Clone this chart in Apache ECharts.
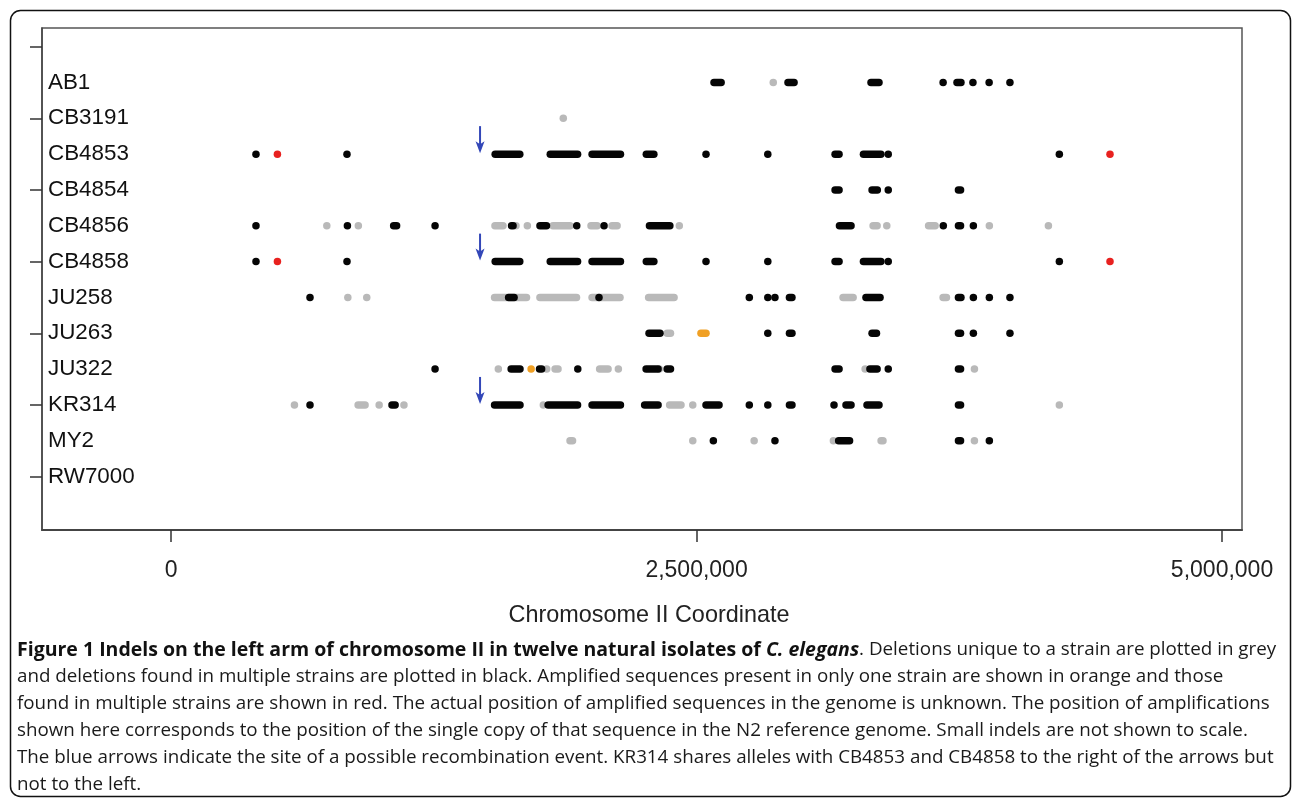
<!DOCTYPE html>
<html>
<head>
<meta charset="utf-8">
<script src="https://cdn.jsdelivr.net/npm/echarts@6/dist/echarts.min.js"></script>
<style>
html,body{margin:0;padding:0;background:#fff;}
#chart{width:1293px;height:802px;}
</style>
</head>
<body>
<div id="chart"></div>
<script>
// ---------- data ----------
const strains = ['AB1','CB3191','CB4853','CB4854','CB4856','CB4858','JU258','JU263','JU322','KR314','MY2','RW7000'];
const xTicks = [0, 2500000, 5000000];
const rowTicks = [0, 2, 4, 6, 8, 10, 12];
const xTitle = 'Chromosome II Coordinate';

// [strain, start, end]  (end omitted = single indel)
const blackMarks = [
  ['AB1',2583000,2617000],['AB1',2935000,2964000],['AB1',3330000,3368000],['AB1',3673000],['AB1',3739000,3758000],['AB1',3815000],['AB1',3892000],['AB1',3991000],
  ['CB4853',404000],['CB4853',837000],['CB4853',1542000,1659000],['CB4853',1804000,1934000],['CB4853',2003000,2138000],['CB4853',2261000,2297000],['CB4853',2545000],['CB4853',2839000],['CB4853',3159000,3178000],['CB4853',3294000,3377000],['CB4853',3412000],['CB4853',4226000],
  ['CB4854',3159000,3178000],['CB4854',3335000,3360000],['CB4854',3412000],['CB4854',3746000,3756000],
  ['CB4856',404000],['CB4856',839000],['CB4856',1059000,1073000],['CB4856',1256000],['CB4856',1620000,1627000],['CB4856',1755000,1786000],['CB4856',1930000],['CB4856',2060000],['CB4856',2276000,2373000],['CB4856',3180000,3235000],['CB4856',3674000],['CB4856',3746000,3756000],['CB4856',3817000],
  ['CB4858',404000],['CB4858',837000],['CB4858',1542000,1659000],['CB4858',1804000,1934000],['CB4858',2003000,2138000],['CB4858',2261000,2297000],['CB4858',2545000],['CB4858',2839000],['CB4858',3159000,3178000],['CB4858',3294000,3377000],['CB4858',3412000],['CB4858',4226000],
  ['JU258',661000],['JU258',1606000,1632000],['JU258',2036000],['JU258',2751000],['JU258',2839000],['JU258',2873000],['JU258',2942000,2954000],['JU258',3306000,3373000],['JU258',3746000,3758000],['JU258',3817000],['JU258',3893000],['JU258',3991000],
  ['JU263',2274000,2326000],['JU263',2839000],['JU263',2942000,2954000],['JU263',3335000,3356000],['JU263',3746000,3756000],['JU263',3817000],['JU263',3991000],
  ['JU322',1256000],['JU322',1618000,1660000],['JU322',1753000,1763000],['JU322',1935000],['JU322',2260000,2317000],['JU322',2360000,2376000],['JU322',3159000,3178000],['JU322',3325000,3359000],['JU322',3412000],['JU322',3746000,3756000],
  ['KR314',661000],['KR314',1051000,1066000],['KR314',1539000,1660000],['KR314',1794000,1934000],['KR314',2003000,2138000],['KR314',2253000,2317000],['KR314',2545000,2607000],['KR314',2751000],['KR314',2839000],['KR314',2942000,2954000],['KR314',3154000],['KR314',3211000,3235000],['KR314',3311000,3368000],['KR314',3746000,3756000],
  ['MY2',2580000],['MY2',2873000],['MY2',3176000,3228000],['MY2',3746000,3756000],['MY2',3893000]
];
const greyMarks = [
  ['AB1',2865000],
  ['CB3191',1866000],
  ['CB4856',741000],['CB4856',891000],['CB4856',1541000,1579000],['CB4856',1641000],['CB4856',1695000],['CB4856',1817000,1898000],['CB4856',1998000,2027000],['CB4856',2098000,2122000],['CB4856',2418000],['CB4856',3340000,3359000],['CB4856',3405000],['CB4856',3604000,3635000],['CB4856',3893000],['CB4856',4174000],
  ['JU258',841000],['JU258',931000],['JU258',1539000,1691000],['JU258',1755000,1929000],['JU258',2003000,2136000],['JU258',2272000,2393000],['JU258',3197000,3245000],['JU258',3673000,3689000],
  ['JU263',2360000,2376000],
  ['JU322',1557000],['JU322',1787000],['JU322',1827000,1841000],['JU322',2039000,2079000],['JU322',2128000],['JU322',2323000],['JU322',3302000],['JU322',3822000],
  ['KR314',587000],['KR314',890000,923000],['KR314',990000],['KR314',1108000],['KR314',1771000],['KR314',2372000,2426000],['KR314',2482000],['KR314',4226000],
  ['MY2',1898000,1910000],['MY2',2482000],['MY2',2774000],['MY2',3151000],['MY2',3378000,3387000],['MY2',3822000]
];
const orangeMarks = [['JU263',2521000,2545000],['JU322',1713000]];
const redMarks = [['CB4853',506000],['CB4853',4467000],['CB4858',506000],['CB4858',4467000]];
const arrowMarks = [['CB4853',1470000],['CB4858',1470000],['KR314',1470000]];

const captionLines = [
  [['b','Figure 1 Indels on the left arm of chromosome II in twelve natural isolates of '],['bi','C. elegans'],['n','. Deletions unique to a strain are plotted in grey']],
  [['n','and deletions found in multiple strains are plotted in black. Amplified sequences present in only one strain are shown in orange and those']],
  [['n','found in multiple strains are shown in red. The actual position of amplified sequences in the genome is unknown. The position of amplifications']],
  [['n','shown here corresponds to the position of the single copy of that sequence in the N2 reference genome. Small indels are not shown to scale.']],
  [['n','The blue arrows indicate the site of a possible recombination event. KR314 shares alleles with CB4853 and CB4858 to the right of the arrows but']],
  [['n','not to the left.']]
];

// ---------- build ----------
function toRows(marks){
  return marks.map(m => [strains.indexOf(m[0]) + 1, m[1], m.length > 2 ? m[2] : m[1]]);
}
function pill(color){
  return function(params, api){
    const y = api.value(0), s = api.value(1), e = api.value(2);
    const p1 = api.coord([s, y]), p2 = api.coord([e, y]);
    const h = 7.5;
    return {type:'rect', shape:{x:p1[0]-h/2, y:p1[1]-h/2, width:(p2[0]-p1[0])+h, height:h, r:h/2}, style:{fill:color}};
  };
}
function arrowItem(params, api){
  const p = api.coord([api.value(1), api.value(0)]);
  const x = p[0], tip = p[1] - 1;
  const col = '#3347b8';
  return {type:'group', children:[
    {type:'line', shape:{x1:x, y1:tip-27, x2:x, y2:tip-6}, style:{stroke:col, lineWidth:2}},
    {type:'polygon', shape:{points:[[x-4.5,tip-12],[x,tip-9],[x+4.5,tip-12],[x,tip]]}, style:{fill:col}}
  ]};
}
function fmtNum(v){ return Number(v).toLocaleString('en-US'); }

const series = [
  {type:'custom', renderItem:pill('#b9b9b9'), data:toRows(greyMarks), encode:{x:[1,2], y:0}, z:2},
  {type:'custom', renderItem:pill('#050505'), data:toRows(blackMarks), encode:{x:[1,2], y:0}, z:3},
  {type:'custom', renderItem:pill('#f0a024'), data:toRows(orangeMarks), encode:{x:[1,2], y:0}, z:4},
  {type:'custom', renderItem:pill('#e8211f'), data:toRows(redMarks), encode:{x:[1,2], y:0}, z:4},
  {type:'custom', renderItem:arrowItem, data:arrowMarks.map(a => [strains.indexOf(a[0]) + 1, a[1]]), encode:{x:1, y:0}, z:5}
];

const captionFont = "'Open Sans', 'Noto Sans', sans-serif";
const captionGraphics = captionLines.map((line, i) => ({
  type:'text', left:17, top:640 + i*27.1, silent:true,
  style:{
    text: line.map(r => '{' + r[0] + '|' + r[1] + '}').join(''),
    rich:{
      b:{fontFamily:captionFont, fontSize:19.5, fontWeight:'bold', fill:'#111'},
      bi:{fontFamily:captionFont, fontSize:19.5, fontWeight:'bold', fontStyle:'italic', fill:'#111'},
      n:{fontFamily:captionFont, fontSize:18.8, fill:'#1a1a1a'}
    }
  }
}));

const chart = echarts.init(document.getElementById('chart'), null, {renderer:'canvas'});
chart.setOption({
  animation:false,
  backgroundColor:'#ffffff',
  grid:{left:42, top:28, right:51, bottom:272, show:true, borderColor:'#555', borderWidth:1.5, backgroundColor:'transparent'},
  xAxis:{
    type:'value', min:-614000, max:5095000,
    axisLine:{show:true, onZero:false, lineStyle:{color:'#444', width:2}},
    splitLine:{show:false},
    axisTick:{show:true, length:12, inside:false, customValues:xTicks, lineStyle:{color:'#333', width:1.5}},
    axisLabel:{show:true, customValues:xTicks, formatter:fmtNum, margin:29, fontFamily:'Liberation Sans, Arial, sans-serif', fontSize:23, color:'#222'},
    name:xTitle, nameLocation:'middle', nameGap:74,
    nameTextStyle:{fontFamily:'Liberation Sans, Arial, sans-serif', fontSize:23.4, color:'#222', padding:[0,0,0,14]}
  },
  yAxis:{
    type:'value', min:-0.52, max:13.49, inverse:true,
    axisLine:{show:true, onZero:false, lineStyle:{color:'#444', width:1.5}},
    splitLine:{show:false},
    axisTick:{show:true, length:12, inside:false, customValues:rowTicks, lineStyle:{color:'#333', width:1.5}},
    axisLabel:{show:true, inside:true, margin:6, customValues:strains.map((s,i)=>i+1),
      formatter:function(v){ return strains[Math.round(v)-1] || ''; },
      fontFamily:'Liberation Sans, Arial, sans-serif', fontSize:22.4, color:'#111'}
  },
  series:series,
  graphic:[
    {type:'rect', silent:true, shape:{x:10.5, y:10.5, width:1280, height:786, r:10}, style:{fill:'none', stroke:'#111', lineWidth:1.5}, z:-1}
  ].concat(captionGraphics)
});
</script>
</body>
</html>
